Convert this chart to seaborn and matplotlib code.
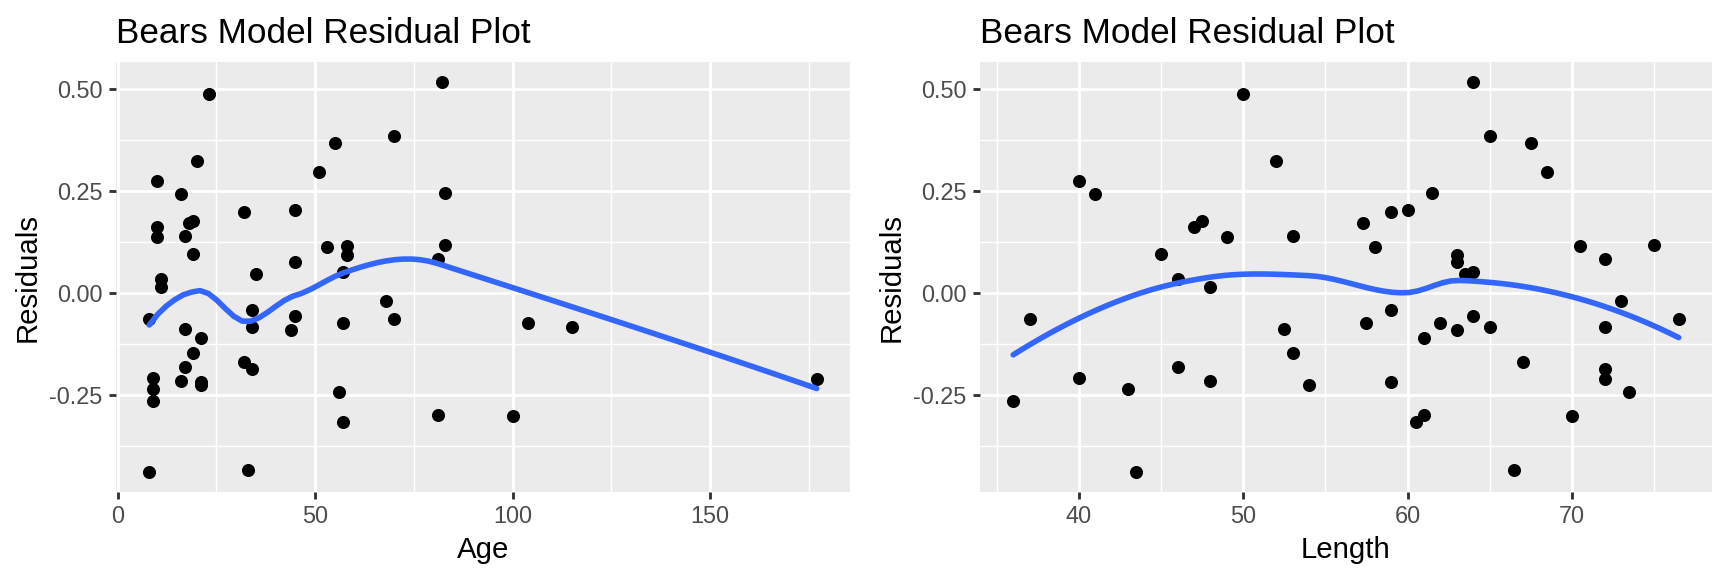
import numpy as np
import pandas as pd
import matplotlib
matplotlib.use("Agg")
import matplotlib.pyplot as plt
import seaborn as sns

# bear data
age = [8, 8, 9, 9, 9, 10, 10, 10, 11, 11, 16, 16, 17, 17, 17, 18, 19, 19, 19, 20,
       21, 21, 21, 23, 32, 32, 33, 34, 34, 34, 35, 44, 45, 45, 45, 51, 53, 55, 56, 57,
       57, 57, 58, 58, 68, 70, 70, 81, 81, 82, 83, 83, 100, 104, 115, 177]
length = [37, 43.5, 40, 43, 36, 40, 47, 49, 46, 48, 41, 48, 53, 52.5, 46, 57.3, 47.5, 45, 53, 52,
          61, 59, 54, 50, 59, 67, 66.5, 59, 65, 72, 63.5, 63, 60, 63, 64, 68.5, 58, 67.5, 73.5, 64,
          57.5, 60.5, 70.5, 63, 73, 65, 76.5, 72, 61, 64, 61.5, 75, 70, 62, 72, 72]
residuals = [-0.064, -0.441, -0.208, -0.237, -0.266, 0.274, 0.161, 0.136, 0.033, 0.014,
             0.241, -0.217, 0.140, -0.089, -0.183, 0.172, 0.176, 0.095, -0.148, 0.324,
             -0.110, -0.219, -0.226, 0.488, 0.198, -0.170, -0.435, -0.043, -0.083, -0.186,
             0.047, -0.091, 0.202, 0.076, -0.056, 0.297, 0.113, 0.368, -0.244, 0.050,
             -0.074, -0.317, 0.115, 0.093, -0.021, 0.384, -0.065, 0.082, -0.301, 0.518,
             0.244, 0.116, -0.303, -0.075, -0.084, -0.211]

y_ticks = [-0.25, 0.0, 0.25, 0.50]
y_labels = ["-0.25", "0.00", "0.25", "0.50"]
age_ticks = [0, 50, 100, 150]
length_ticks = [40, 50, 60, 70]

df = pd.DataFrame({"Age": age, "Length": length, "Residuals": residuals})


def local_fit(x, y, v, q):
    # local quadratic with tricube weights, returns value and slope at v
    d = np.abs(x - v)
    rho = np.sort(d)[q - 1]
    w = np.clip(1 - (d / rho) ** 3, 0, None) ** 3
    X = np.column_stack([np.ones_like(x), x - v, (x - v) ** 2])
    sw = np.sqrt(w)
    coef = np.linalg.lstsq(X * sw[:, None], y * sw, rcond=None)[0]
    return coef[0], coef[1]


def loess_curve(x, y, span=0.75, n_out=80):
    # loess (degree 2) with kd-tree vertices + cubic hermite interpolation
    x = np.asarray(x, float)
    y = np.asarray(y, float)
    n = len(x)
    q = int(np.floor(n * span + 1e-5))
    fc = int(np.floor(n * span * 0.2))
    xs = np.sort(x)
    mu = 0.005 * (xs[-1] - xs[0])
    cells = []

    def split(l, u, vlo, vhi):
        if u - l + 1 <= fc:
            cells.append((vlo, vhi))
            return
        m = (l + u) // 2
        off = 0
        while l <= m + off < u:
            if xs[m + off - 1] == xs[m + off]:
                off = -off
                if off >= 0:
                    off += 1
            else:
                m = m + off
                break
        xi = xs[m - 1]
        if xi == vlo or xi == vhi:
            cells.append((vlo, vhi))
            return
        split(l, m, vlo, xi)
        split(m + 1, u, xi, vhi)

    split(1, n, xs[0] - mu, xs[-1] + mu)
    verts = sorted(set([c[0] for c in cells] + [c[1] for c in cells]))
    fits = {v: local_fit(x, y, v, q) for v in verts}

    grid = np.linspace(xs[0], xs[-1], n_out)
    out = []
    for z in grid:
        a, b = next(c for c in cells if c[0] <= z <= c[1])
        h = b - a
        t = (z - a) / h
        v0, d0 = fits[a]
        v1, d1 = fits[b]
        phi0 = (1 - t) ** 2 * (1 + 2 * t)
        phi1 = t ** 2 * (3 - 2 * t)
        psi0 = t * (1 - t) ** 2
        psi1 = -t ** 2 * (1 - t)
        out.append(phi0 * v0 + phi1 * v1 + (psi0 * d0 + psi1 * d1) * h)
    return pd.DataFrame({"x": grid, "fit": out})


sns.set_style("darkgrid", {"axes.facecolor": "#EBEBEB", "grid.color": "white",
                           "text.color": "black", "axes.labelcolor": "black"})
plt.rcParams["font.family"] = ["Liberation Sans", "DejaVu Sans"]
plt.rcParams["axes.unicode_minus"] = False

fig = plt.figure(figsize=(9, 3), dpi=192)
ax1 = fig.add_axes([0.0671, 0.1458, 0.4248, 0.7465])
ax2 = fig.add_axes([0.5671, 0.1458, 0.4236, 0.7465])

r = np.array(residuals)
r_pad = 0.05 * (r.max() - r.min())

panels = [
    (ax1, "Age", age_ticks, [25, 75, 125, 175]),
    (ax2, "Length", length_ticks, [35, 45, 55, 65, 75]),
]

for ax, col, major, minor in panels:
    sns.scatterplot(data=df, x=col, y="Residuals", ax=ax, color="black",
                    s=24, linewidth=0, zorder=3)
    curve = loess_curve(df[col], df["Residuals"])
    sns.lineplot(data=curve, x="x", y="fit", ax=ax, color="#3366FF",
                 linewidth=2.1, zorder=4)

    xv = df[col].to_numpy()
    x_pad = 0.05 * (xv.max() - xv.min())
    ax.set_xlim(xv.min() - x_pad, xv.max() + x_pad)
    ax.set_ylim(r.min() - r_pad, r.max() + r_pad)

    ax.set_xticks(major)
    ax.set_xticks(minor, minor=True)
    ax.set_yticks(y_ticks)
    ax.set_yticklabels(y_labels)
    ax.set_yticks([-0.375, -0.125, 0.125, 0.375], minor=True)

    ax.grid(which="major", color="white", linewidth=1.07)
    ax.grid(which="minor", color="white", linewidth=0.53)
    ax.tick_params(which="major", length=2.75, width=1.07, color="#333333",
                   labelcolor="#4D4D4D", labelsize=8.8, pad=2.2,
                   bottom=True, left=True)
    ax.tick_params(which="minor", length=0)
    for s in ax.spines.values():
        s.set_visible(False)

    ax.set_xlabel(col, fontsize=11, labelpad=3, color="black")
    ax.set_ylabel("Residuals", fontsize=11, labelpad=3, color="black")
    ax.set_title("Bears Model Residual Plot", loc="left", fontsize=13.2, pad=7,
                 color="black")

fig.savefig("out.png", dpi=192, facecolor="white")
